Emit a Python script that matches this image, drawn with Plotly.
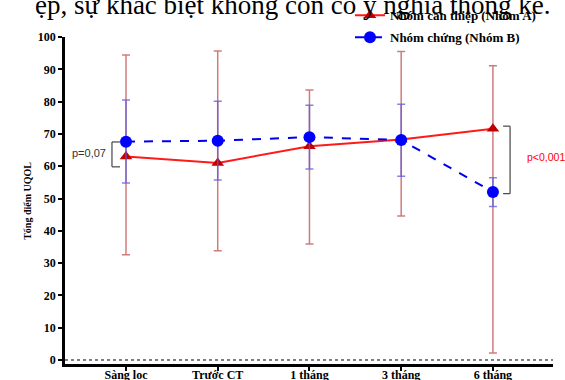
import plotly.graph_objects as go

categories = ["Sàng lọc", "Trước CT", "1 tháng", "3 tháng", "6 tháng"]

a_mean = [63.0, 61.0, 66.2, 68.3, 71.6]
a_plus = [31.4, 34.7, 17.4, 27.2, 19.5]
a_minus = [30.4, 27.2, 30.3, 23.7, 69.4]

b_mean = [67.6, 67.9, 69.0, 68.1, 52.0]
b_plus = [12.9, 12.2, 9.9, 11.1, 4.4]
b_minus = [12.8, 12.2, 9.9, 11.2, 4.5]

y_ticks = [0, 10, 20, 30, 40, 50, 60, 70, 80, 90, 100]

name_a = "Nhóm can thiệp (Nhóm A)"
name_b = "Nhóm chứng (Nhóm B)"
title_text = "ệp, sự khác biệt không còn có ý nghĩa thống kê."
y_title = "Tổng điểm UQOL"
p_left = "p=0,07"
p_right = "p<0,001"

serif = "Liberation Serif, Times New Roman, serif"

fig = go.Figure()
fig.add_trace(go.Scatter(
    x=categories, y=a_mean, name=name_a, mode="lines+markers", legendgroup="a",
    line=dict(color="#ff1a1a", width=2),
    marker=dict(symbol="triangle-up", size=11, color="#c00000"),
    error_y=dict(type="data", symmetric=False, array=a_plus, arrayminus=a_minus,
                 color="rgba(190,80,80,0.75)", thickness=1.5, width=4),
))
fig.add_trace(go.Scatter(
    x=categories, y=b_mean, name=name_b, mode="lines+markers", legendgroup="b",
    line=dict(color="#0000ee", width=2, dash="dash"),
    marker=dict(symbol="circle", size=12, color="#0000ff"),
    error_y=dict(type="data", symmetric=False, array=b_plus, arrayminus=b_minus,
                 color="rgba(90,90,230,0.75)", thickness=1.5, width=4),
))

fig.update_layout(
    width=565, height=380,
    margin=dict(l=65, r=12, t=37, b=16, autoexpand=False),
    plot_bgcolor="white", paper_bgcolor="white",
    showlegend=True,
    legend=dict(x=0.584, y=1.112, xanchor="left", yanchor="top",
                bgcolor="rgba(0,0,0,0)", tracegroupgap=2,
                font=dict(family=serif, size=13, color="black", weight="bold")),
    xaxis=dict(type="category", range=[-0.665, 4.655], automargin=False,
               showline=True, linewidth=2.5, linecolor="black",
               ticks="outside", ticklen=4, tickwidth=2, tickcolor="black",
               ticklabelstandoff=-6,
               showgrid=False, zeroline=False,
               tickfont=dict(family=serif, size=12, color="black", weight="bold")),
    yaxis=dict(range=[-1.24, 100], tickvals=y_ticks, automargin=False,
               showline=True, linewidth=2.5, linecolor="black",
               ticks="outside", ticklen=4, tickwidth=2, tickcolor="black",
               showgrid=False, zeroline=False,
               tickfont=dict(family=serif, size=12, color="black", weight="bold")),
)

# dotted zero line
fig.add_shape(type="line", xref="paper", x0=0, x1=1, yref="y", y0=0, y1=0,
              line=dict(color="black", width=1, dash="dot"))

# left bracket
bx, bt = -0.153, -0.065
for s in [dict(x0=bx, x1=bx, y0=59.8, y1=67.5),
          dict(x0=bx, x1=bt, y0=67.5, y1=67.5),
          dict(x0=bx, x1=bt, y0=59.8, y1=59.8)]:
    fig.add_shape(type="line", xref="x", yref="y", line=dict(color="#444", width=1.2), **s)
# right bracket
rx, rt = 4.187, 4.111
for s in [dict(x0=rx, x1=rx, y0=51.5, y1=72.4),
          dict(x0=rt, x1=rx, y0=72.4, y1=72.4),
          dict(x0=rt, x1=rx, y0=51.5, y1=51.5)]:
    fig.add_shape(type="line", xref="x", yref="y", line=dict(color="#444", width=1.2), **s)

fig.add_annotation(x=-0.195, y=64.2, xref="x", yref="y", text=p_left, showarrow=False,
                   xanchor="right", yanchor="middle",
                   font=dict(family="Liberation Sans, Arial", size=11, color="#333"))
fig.add_annotation(x=4.355, y=63.0, xref="x", yref="y", text=p_right, showarrow=False,
                   xanchor="left", yanchor="middle",
                   font=dict(family="Liberation Sans, Arial", size=10.5, color="#ff0000"))

fig.add_annotation(x=-0.0785, y=0.498, xref="paper", yref="paper", text=y_title,
                   showarrow=False, textangle=-90, xanchor="center", yanchor="middle",
                   font=dict(family=serif, size=10, color="black", weight="bold"))

fig.add_annotation(x=(553 - 65) / 488, y=(364 - 5) / 327, xref="paper", yref="paper",
                   text=title_text, showarrow=False, xanchor="right", yanchor="middle",
                   font=dict(family=serif, size=27, color="black"))

fig.write_html("out.html")
